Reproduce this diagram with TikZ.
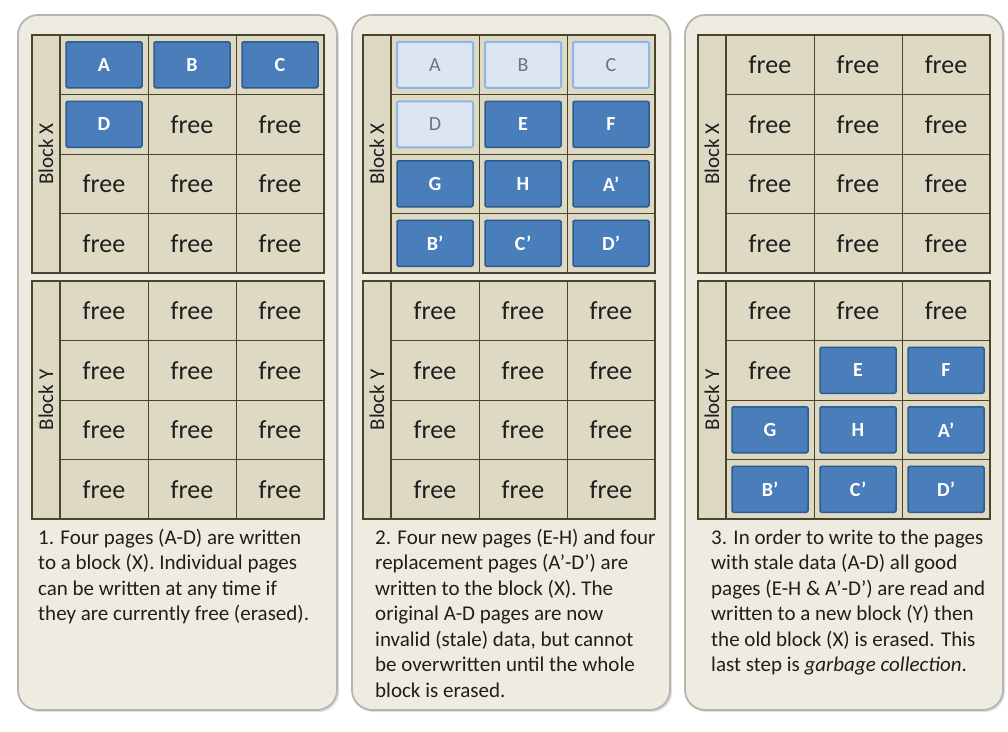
\documentclass[tikz,border=0pt]{standalone}
\usepackage{fontspec}
\setmainfont{Carlito}
\definecolor{panelbg}{HTML}{EEECE1}
\definecolor{panelbd}{HTML}{B5B5AE}
\definecolor{cellbg}{HTML}{DDD9C3}
\definecolor{gridln}{HTML}{4A452A}
\definecolor{pagebg}{HTML}{4A7EBB}
\definecolor{pagebd}{HTML}{2C5B8F}
\definecolor{stalebg}{HTML}{DCE6F2}
\definecolor{stalebd}{HTML}{8EB4E3}
\definecolor{txt}{HTML}{1E1E1E}
\tikzset{
 panel/.style={draw=panelbd, line width=1.8pt, fill=panelbg, rounded corners=20pt},
 blockframe/.style={draw=gridln, line width=2.6pt},
 gridline/.style={draw=gridln, line width=0.9pt},
 kindp/.style={draw=pagebd, line width=1.5pt, fill=pagebg, rounded corners=1.5pt, minimum width=76pt, minimum height=46pt, inner sep=0pt, text=white, font=\fontsize{20}{20}\selectfont\bfseries},
 kinds/.style={draw=stalebd, line width=2pt, fill=stalebg, rounded corners=1.5pt, minimum width=76pt, minimum height=46pt, inner sep=0pt, text=black!55, font=\fontsize{20}{20}\selectfont},
 kindf/.style={inner sep=0pt, text=txt, font=\fontsize{26}{26}\selectfont},
 cellstyle/.style={kind#1},
 blocklabel/.style={rotate=90, inner sep=0pt, text=txt, font=\fontsize{21}{21}\selectfont},
 caption/.style={anchor=base west, inner sep=0pt, text=txt, font=\fontsize{21}{21}\selectfont},
}
\newcommand{\drawblock}[5]{%
  \path[fill=cellbg] (#1,#2) rectangle (#1+292,#2+238);
  \foreach \cx in {116,204} \draw[gridline] (#1+\cx,#2) -- (#1+\cx,#2+238);
  \foreach \ry in {59.5,119,178.5} \draw[gridline] (#1+28,#2+\ry) -- (#1+292,#2+\ry);
  \foreach [count=\i] \ty/\tx in {#5} {
    \pgfmathtruncatemacro\rr{(\i-1)/3}
    \pgfmathtruncatemacro\cc{mod(\i-1,3)}
    \node[cellstyle/.expanded=\ty] (#3-\i) at (#1+72+88*\cc, #2+29.75+59.5*\rr) {\tx};
  }
  \draw[blockframe] (#1+28,#2) -- (#1+28,#2+238);
  \draw[blockframe] (#1,#2) rectangle (#1+292,#2+238);
  \node[blocklabel] (#3-lbl) at (#1+14,#2+119) {#4};
}
\begin{document}
\begin{tikzpicture}[x=1pt,y=-1pt]
\useasboundingbox (0,0) rectangle (1008,731);
\fill[white] (0,0) rectangle (1008,731);
% panels
\foreach \pl/\pr in {18/337, 352/670, 685/1003} {
  \path[fill=black!12, rounded corners=20pt] (\pl+2,17) rectangle (\pr+2,712);
  \path[panel] (\pl,15) rectangle (\pr,710);
}
% panel 1
\drawblock{32}{35}{p1x}{Block X}{p/A,p/B,p/C,p/D,f/free,f/free,f/free,f/free,f/free,f/free,f/free,f/free}
\drawblock{32}{281}{p1y}{Block Y}{f/free,f/free,f/free,f/free,f/free,f/free,f/free,f/free,f/free,f/free,f/free,f/free}
% panel 2
\drawblock{363}{35}{p2x}{Block X}{s/A,s/B,s/C,s/D,p/E,p/F,p/G,p/H,p/A’,p/B’,p/C’,p/D’}
\drawblock{363}{281}{p2y}{Block Y}{f/free,f/free,f/free,f/free,f/free,f/free,f/free,f/free,f/free,f/free,f/free,f/free}
% panel 3
\drawblock{698}{35}{p3x}{Block X}{f/free,f/free,f/free,f/free,f/free,f/free,f/free,f/free,f/free,f/free,f/free,f/free}
\drawblock{698}{281}{p3y}{Block Y}{f/free,f/free,f/free,f/free,p/E,p/F,p/G,p/H,p/A’,p/B’,p/C’,p/D’}
% captions
\foreach [count=\k] \ln in {{1. Four pages (A-D) are written},{to a block (X). Individual pages},{can be written at any time if},{they are currently free (erased).}}
  \node[caption] (cap1-\k) at (38,{544+25.5*(\k-1)}) {\ln};
\foreach [count=\k] \ln in {{2. Four new pages (E-H) and four},{replacement pages (A’-D’) are},{written to the block (X). The},{original A-D pages are now},{invalid (stale) data, but cannot},{be overwritten until the whole},{block is erased.}}
  \node[caption] (cap2-\k) at (375,{544+25.5*(\k-1)}) {\ln};
\foreach [count=\k] \ln in {{3. In order to write to the pages},{with stale data (A-D) all good},{pages (E-H \& A’-D’) are read and},{written to a new block (Y) then},{the old block (X) is erased. This},{last step is \textit{garbage collection}.}}
  \node[caption] (cap3-\k) at (711,{544+25.5*(\k-1)}) {\ln};
\end{tikzpicture}
\end{document}
